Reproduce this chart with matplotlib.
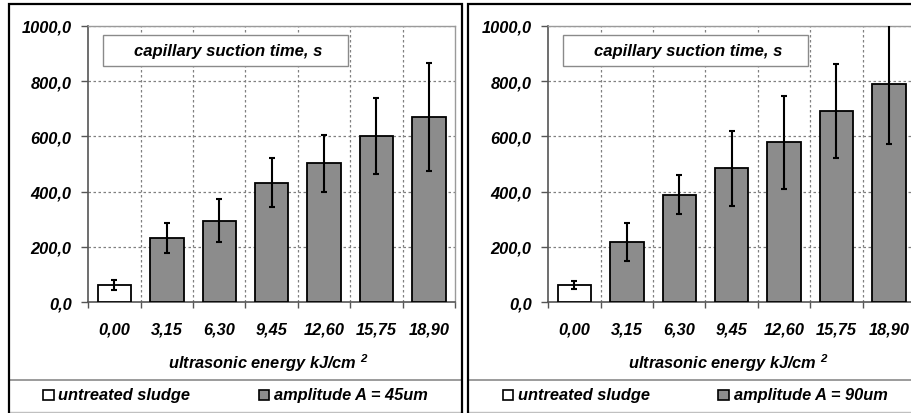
import matplotlib
matplotlib.use("Agg")
import matplotlib.pyplot as plt
from matplotlib.patches import Rectangle
from matplotlib.lines import Line2D
import numpy as np

categories = ['0,00', '3,15', '6,30', '9,45', '12,60', '15,75', '18,90']
left_values = [64, 233, 295, 433, 502, 600, 671]
left_err = [18, 54, 77, 89, 102, 137, 195]
right_values = [63, 217, 389, 484, 578, 693, 788]
right_err = [14, 68, 70, 136, 169, 170, 216]
y_ticks = [0, 200, 400, 600, 800, 1000]
y_tick_labels = ['0,0', '200,0', '400,0', '600,0', '800,0', '1000,0']
box_title = 'capillary suction time, s'
x_label = 'ultrasonic energy kJ/cm'
legend_untreated = 'untreated sludge'
legend_amp = ['amplitude A = 45um', 'amplitude A = 90um']

W, H = 911, 414
plt.rcParams['font.family'] = ['Liberation Sans', 'DejaVu Sans']
plt.rcParams['mathtext.fontset'] = 'custom'
plt.rcParams['mathtext.rm'] = 'Liberation Sans:bold:italic'
plt.rcParams['mathtext.it'] = 'Liberation Sans:bold:italic'
plt.rcParams['mathtext.bf'] = 'Liberation Sans:bold:italic'
fig = plt.figure(figsize=(W / 100, H / 100), dpi=100)
fig.patch.set_facecolor('white')

FONT = dict(fontsize=11.8, fontweight='bold', fontstyle='italic')
TITLE_FONT = dict(fontsize=12, fontweight='bold', fontstyle='italic')
BAR_GRAY = '#8c8c8c'


def fx(px):
    return px / W


def fy(py):
    return 1 - py / H


def panel(ax_left_px, values, errs, amp_label, panel_left_px, panel_right_px):
    ax_top, ax_bot = 26.7, 303.3
    ax_w = 366.7
    ax = fig.add_axes([fx(ax_left_px), fy(ax_bot), ax_w / W, (ax_bot - ax_top) / H])
    x = np.arange(len(categories))
    colors = ['white'] + [BAR_GRAY] * (len(categories) - 1)
    ax.bar(x, values, width=0.64, color=colors, edgecolor='black', linewidth=1.3, zorder=3)
    ax.errorbar(x, values, yerr=errs, fmt='none', ecolor='black', elinewidth=1.5,
                capsize=2.5, capthick=1.5, zorder=4)
    ax.set_xlim(-0.5, len(categories) - 0.5)
    ax.set_ylim(0, 1000)
    ax.set_yticks(y_ticks)
    ax.set_yticklabels(y_tick_labels, **FONT)
    ax.set_xticks(x)
    ax.set_xticklabels(categories, **FONT)
    ax.set_xticks(np.arange(-0.5, len(categories) + 0.5, 1), minor=True)
    ax.tick_params(axis='x', which='major', length=0, pad=14)
    ax.tick_params(axis='x', which='minor', length=4, width=1, color='#555555', direction='out')
    ax.tick_params(axis='y', length=5, width=1, color='#555555', pad=7)
    for yv in y_ticks[1:]:
        ax.axhline(yv, color='#808080', lw=0.9, ls=(0, (2, 2)), zorder=1)
    for xv in np.arange(0.5, len(categories) - 0.5, 1):
        ax.axvline(xv, color='#808080', lw=0.9, ls=(0, (2, 2)), zorder=1)
    for s in ['left', 'bottom']:
        ax.spines[s].set_color('#555555')
        ax.spines[s].set_linewidth(1.2)
    for s in ['top', 'right']:
        ax.spines[s].set_color('#9a9a9a')
        ax.spines[s].set_linewidth(1.0)
    ax.set_xlabel(x_label + r' $^{2}$', **FONT)
    ax.xaxis.set_label_coords(0.49, -0.218)
    ax.xaxis.label.set_verticalalignment('center')

    # title box
    bx0 = ax_left_px + 15
    bx1 = ax_left_px + 260
    by0, by1 = 35.7, 66.7
    fig.patches.append(Rectangle((fx(bx0), fy(by1)), (bx1 - bx0) / W, (by1 - by0) / H,
                                 transform=fig.transFigure, facecolor='white',
                                 edgecolor='#8a8a8a', lw=1.0, zorder=5))
    fig.text(fx((bx0 + bx1) / 2 + 2), fy((by0 + by1) / 2), box_title, ha='center', va='center',
             zorder=6, **TITLE_FONT)

    # panel border
    fig.patches.append(Rectangle((fx(panel_left_px), fy(420)), (panel_right_px - panel_left_px) / W,
                                 (420 - 4.5) / H, transform=fig.transFigure, facecolor='none',
                                 edgecolor='black', lw=1.6, zorder=10))
    # legend separator
    fig.lines.append(Line2D([fx(panel_left_px), fx(panel_right_px)], [fy(381), fy(381)],
                            transform=fig.transFigure, color='#8a8a8a', lw=1.2))
    fig.lines.append(Line2D([fx(panel_left_px), fx(panel_right_px)], [fy(412.7), fy(412.7)],
                            transform=fig.transFigure, color='#c0c0c0', lw=1.0))
    # legend items
    off = panel_left_px - 8
    sq = 10.5
    ly = 396
    fig.patches.append(Rectangle((fx(off + 42.7), fy(ly + sq / 2)), sq / W, sq / H,
                                 transform=fig.transFigure, facecolor='white',
                                 edgecolor='black', lw=1.2))
    fig.text(fx(off + 58), fy(ly), legend_untreated, ha='left', va='center', **FONT)
    fig.patches.append(Rectangle((fx(off + 258.3), fy(ly + sq / 2)), sq / W, sq / H,
                                 transform=fig.transFigure, facecolor=BAR_GRAY,
                                 edgecolor='black', lw=1.2))
    fig.text(fx(off + 274), fy(ly), amp_label, ha='left', va='center', **FONT)
    return ax


panel(88.3, left_values, left_err, legend_amp[0], 8.5, 461.5)
panel(548.3, right_values, right_err, legend_amp[1], 468, 930)

fig.savefig('out.png', dpi=100)
